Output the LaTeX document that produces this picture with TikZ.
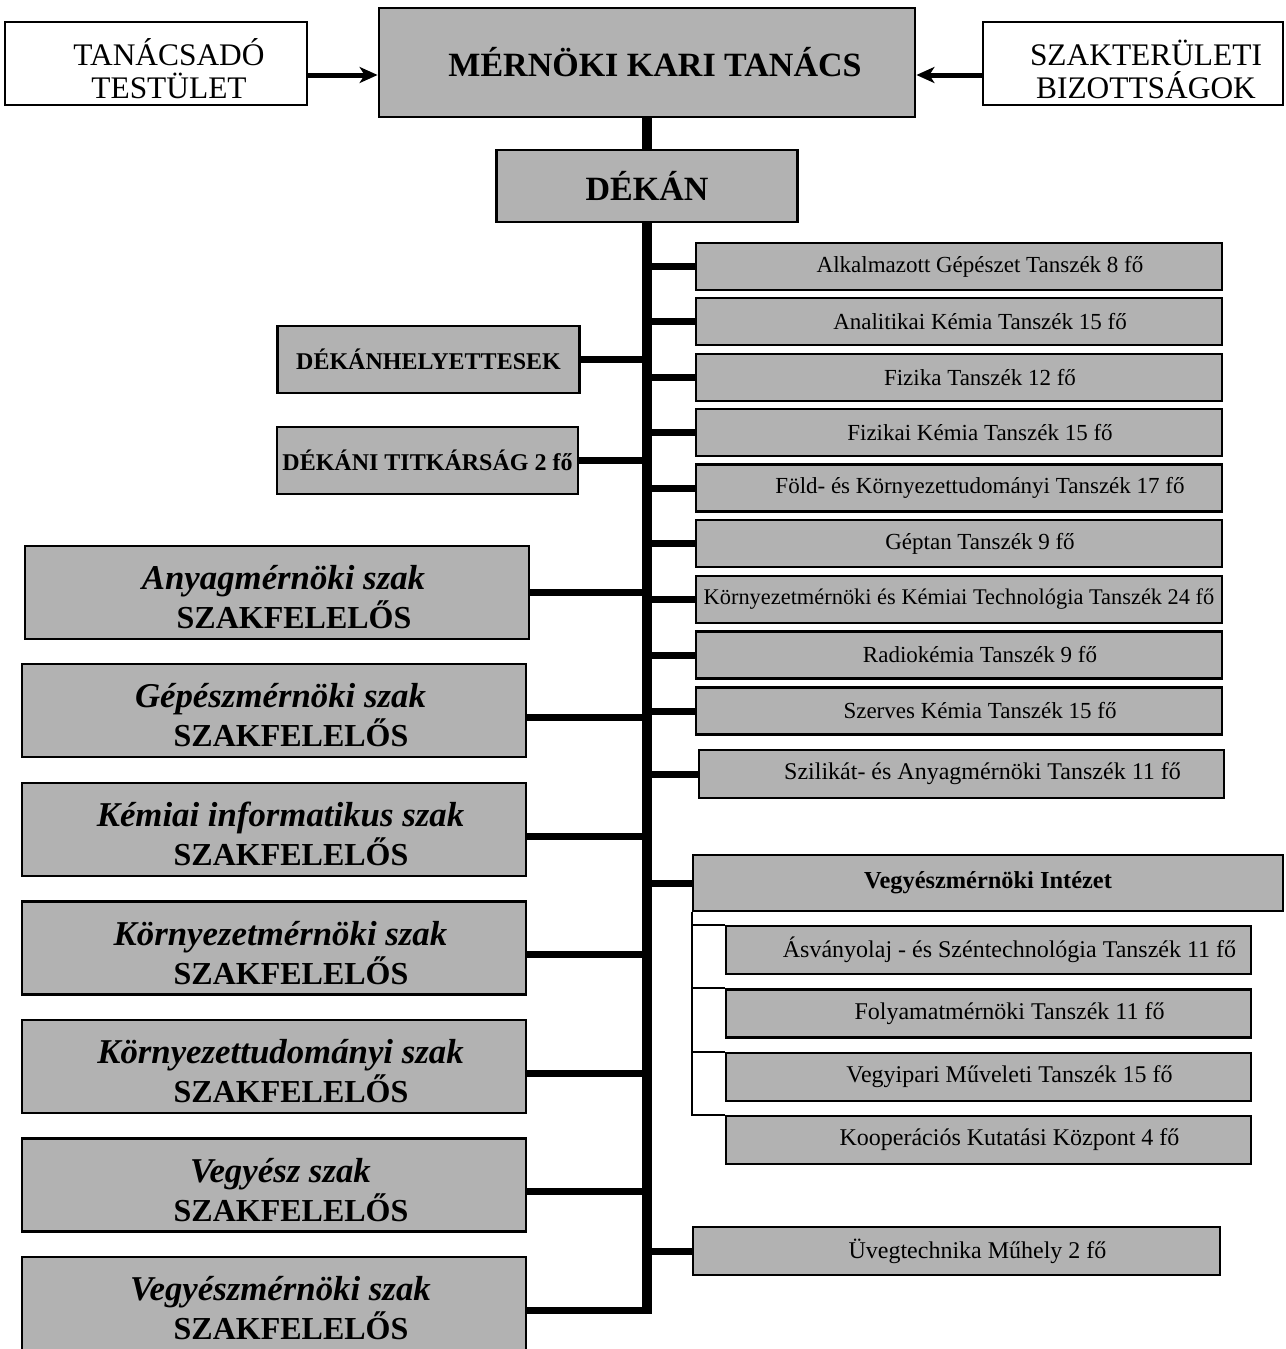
\documentclass[tikz,border=0pt]{standalone}
\usepackage{fontspec}
\setmainfont{Liberation Serif}
\usetikzlibrary{arrows.meta}
\newcommand{\szk}[1]{\hspace*{6.5pt}{\fontsize{17.4}{19.5}\selectfont\itshape #1}\\\hspace*{17pt}SZAKFELELŐS}

\begin{document}
\begin{tikzpicture}[x=0.5pt,y=-0.5pt,
	box/.style={draw,line width=1.4pt,fill=black!30,inner sep=0pt,align=center},
	topbox/.style={box,fill=white,minimum width=151pt,minimum height=41.5pt,text height=35pt,text depth=0pt,font=\fontsize{15.7}{16.5}\selectfont},
	headbox/.style={box,font=\bfseries\fontsize{17}{20}\selectfont},
	leadbox/.style={box,minimum width=151pt,minimum height=33.5pt,font=\bfseries\fontsize{12}{14}\selectfont},
	szak/.style={box,minimum width=252pt,minimum height=46.5pt,text height=36pt,text depth=0pt,font=\bfseries\fontsize{16}{19.5}\selectfont},
	dept/.style={box,minimum width=263pt,minimum height=23.5pt,font=\fontsize{11.5}{13}\selectfont},
	deptin/.style={dept,execute at begin node={\hspace{21pt}}},
	sub/.style={deptin,minimum width=262.5pt,minimum height=24pt,font=\fontsize{12}{14}\selectfont},
	trunk/.style={line width=5pt},
	branch/.style={line width=3.5pt},
	thinline/.style={line width=0.9pt},
	arr/.style={line width=2.5pt,-{Stealth[length=9pt,width=8pt,inset=2.5pt]}}]
	\useasboundingbox (0,0) rectangle (1285,1349);
	%top row
	\node[topbox] (tanacs) at (156,63.5) {\hspace*{13pt}TANÁCSADÓ\\\hspace*{13pt}TESTÜLET};
	\node[headbox,minimum width=268pt,minimum height=54.5pt] (mkt) at (647,62.5) {\hspace{8pt}MÉRNÖKI KARI TANÁCS};
	\node[topbox,minimum width=150pt] (szakter) at (1133,63.5) {\hspace*{13pt}SZAKTERÜLETI\\\hspace*{13pt}BIZOTTSÁGOK};
	\node[headbox,minimum width=150.5pt,minimum height=36pt] (dekan) at (647,186) {DÉKÁN};
	\coordinate (ay) at (0,75);
	\draw[arr] (tanacs.east |- ay)--(mkt.west |- ay);
	\draw[arr] (szakter.west |- ay)--(mkt.east |- ay);
	%left side
	\node[leadbox] (hely) at (428.5,359.5) {DÉKÁNHELYETTESEK};
	\node[leadbox,minimum width=150.5pt] (titk) at (427.5,460.5) {DÉKÁNI TITKÁRSÁG 2 fő};
	\node[szak] (sz1) at (277,592.5) {\szk{Anyagmérnöki szak}};
	\node[szak] (sz2) at (274,710.5) {\szk{Gépészmérnöki szak}};
	\node[szak] (sz3) at (274,829.5) {\szk{Kémiai informatikus szak}};
	\node[szak] (sz4) at (274,948) {\szk{Környezetmérnöki szak}};
	\node[szak] (sz5) at (274,1066.5) {\szk{Környezettudományi szak}};
	\node[szak] (sz6) at (274,1185) {\szk{Vegyész szak}};
	\node[szak] (sz7) at (274,1303.5) {\szk{Vegyészmérnöki szak}};
	%right side
	\node[deptin] (d1) at (959,266.5) {Alkalmazott Gépészet Tanszék 8 fő};
	\node[deptin] (d2) at (959,321.5) {Analitikai Kémia Tanszék 15 fő};
	\node[deptin] (d3) at (959,377.5) {Fizika Tanszék 12 fő};
	\node[deptin] (d4) at (959,432.5) {Fizikai Kémia Tanszék 15 fő};
	\node[deptin] (d5) at (959,488) {Föld- és Környezettudományi Tanszék 17 fő};
	\node[deptin] (d6) at (959,543.5) {Géptan Tanszék 9 fő};
	\node[dept,font=\fontsize{11.2}{13}\selectfont] (d7) at (959,599.5) {Környezetmérnöki és Kémiai Technológia Tanszék 24 fő};
	\node[deptin] (d8) at (959,655) {Radiokémia Tanszék 9 fő};
	\node[deptin] (d9) at (959,711) {Szerves Kémia Tanszék 15 fő};
	\node[sub] (d10) at (961.5,774) {Szilikát- és Anyagmérnöki Tanszék 11 fő};
	\node[box,minimum width=295pt,minimum height=28pt,font=\bfseries\fontsize{12.2}{14}\selectfont] (vi) at (988,883) {Vegyészmérnöki Intézet};
	\node[sub] (s1) at (988.5,950) {Ásványolaj - és Széntechnológia Tanszék 11 fő};
	\node[sub] (s2) at (988.5,1013.5) {Folyamatmérnöki Tanszék 11 fő};
	\node[sub] (s3) at (988.5,1077) {Vegyipari Műveleti Tanszék 15 fő};
	\node[sub] (s4) at (988.5,1140) {Kooperációs Kutatási Központ 4 fő};
	\node[sub,minimum width=263.5pt] (uveg) at (956.5,1251) {Üvegtechnika Műhely 2 fő};
	%trunk and branches
	\draw[trunk] (mkt.south)--(dekan.north);
	\draw[trunk] (dekan.south)--([yshift=-5pt]dekan.south |- sz7.east);
	\foreach \n/\s in {hely/0,titk/0,sz1/0,sz2/-3.25,sz3/-3.25,sz4/-3.25,sz5/-3.25,sz6/-3.25,sz7/-3.25}
		\draw[branch] ([yshift=\s pt]\n.east)--([yshift=\s pt]\n.east -| dekan.south);
	\foreach \n in {d1,d2,d3,d4,d5,d6,d7,d8,d9,d10,vi,uveg}
		\draw[branch] (\n.west)--(\n.west -| dekan.south);
	%institute
	\draw[thinline] (vi.south west) |- (s4.north west);
	\foreach \n in {s1,s2,s3}
		\draw[thinline] (vi.south west |- \n.north west)--(\n.north west);
\end{tikzpicture}
\end{document}
